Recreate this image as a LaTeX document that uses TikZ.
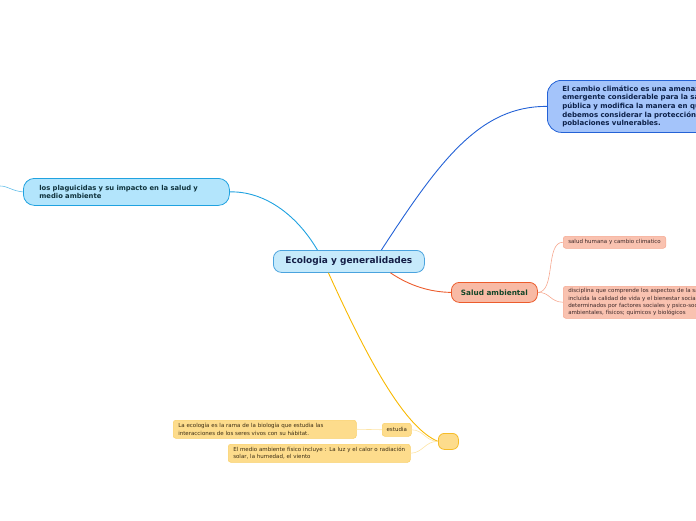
\documentclass[tikz,border=0pt]{standalone}
\usepackage{fontspec}
\setmainfont{DejaVu Sans}
\usetikzlibrary{positioning,calc}

\definecolor{ecofill}{RGB}{198,234,251}
\definecolor{ecoline}{RGB}{74,163,222}
\definecolor{ecotext}{RGB}{20,30,70}
\definecolor{ccfill}{RGB}{164,196,250}
\definecolor{ccline}{RGB}{36,98,214}
\definecolor{cctext}{RGB}{12,32,72}
\definecolor{plfill}{RGB}{179,229,252}
\definecolor{plline}{RGB}{32,162,224}
\definecolor{pltext}{RGB}{15,50,60}
\definecolor{safill}{RGB}{248,186,165}
\definecolor{saline}{RGB}{236,92,44}
\definecolor{satext}{RGB}{20,70,40}
\definecolor{subfill}{RGB}{249,194,176}
\definecolor{subline}{RGB}{246,168,144}
\definecolor{subtext}{RGB}{60,40,40}
\definecolor{yefill}{RGB}{253,220,140}
\definecolor{yeline}{RGB}{246,188,40}
\definecolor{yewire}{RGB}{248,184,0}
\definecolor{yethin}{RGB}{253,228,165}
\definecolor{yetext}{RGB}{60,45,20}

\begin{document}
\begin{tikzpicture}[x=1pt,y=-1pt]
\tikzset{
  box/.style={draw, anchor=north west, align=left, inner ysep=0pt},
  main/.style={box, line width=0.8pt},
  leaf/.style={box, line width=0.5pt, rounded corners=2.5pt, fill=subfill, draw=subline,
    text=subtext, font=\fontsize{5.5}{7.3}\selectfont, inner xsep=5pt},
  yleaf/.style={leaf, fill=yefill, draw=yeline!70, text=yetext},
  wire/.style={line width=0.9pt},
  thin wire/.style={line width=0.6pt}
}
\useasboundingbox (0,0) rectangle (696,520);
\clip (0,0) rectangle (696,520);

% central topic
\node[main, rounded corners=8pt, fill=ecofill, draw=ecoline, text=ecotext, align=center,
  minimum width=151pt, minimum height=22pt, font=\bfseries\fontsize{9}{11}\selectfont]
  (eco) at (273,250) {Ecologia y generalidades};

% main branches
\node[main, rounded corners=14pt, fill=ccfill, draw=ccline, text=cctext,
  minimum width=190pt, minimum height=52pt, inner xsep=15pt, text width=180pt,
  font=\bfseries\fontsize{7}{8.7}\selectfont]
  (cc) at (547,80) {El cambio climático es una amenaza\\emergente considerable para la salud\\pública y modifica la manera en que\\debemos considerar la protección de\\poblaciones vulnerables.};

\node[main, rounded corners=11pt, fill=plfill, draw=plline, text=pltext,
  minimum width=206pt, minimum height=27pt, inner xsep=16pt, text width=174pt,
  font=\bfseries\fontsize{6.8}{8.3}\selectfont]
  (plag) at (23,178) {los plaguicidas y su impacto en la salud y\\medio ambiente};

\node[main, rounded corners=8pt, fill=safill, draw=saline, text=satext, align=center,
  minimum width=86pt, minimum height=20pt, font=\bfseries\fontsize{7.3}{9}\selectfont]
  (salud) at (451,282) {Salud ambiental};

\node[main, rounded corners=6pt, fill=yefill, draw=yeline, minimum width=20pt, minimum height=16pt]
  (yel) at (438,433) {};

% leaves
\node[leaf, minimum height=12pt] (shc) at (563,236) {salud humana y cambio climatico};
\node[leaf, minimum height=32pt, text width=210pt] (disc) at (563,286)
  {disciplina que comprende los aspectos de la salud humana,\\incluida la calidad de vida y el bienestar social,\\determinados por factores sociales y psico-sociales,\\ambientales, físicos; químicos y biológicos};
\node[yleaf, minimum width=29pt, minimum height=13pt, align=center, inner xsep=2pt] (est) at (382,423) {estudia};
\node[yleaf, minimum width=183pt, minimum height=18pt, text width=173pt] (ecol) at (173,420)
  {La ecología es la rama de la biología que estudia las\\interacciones de los seres vivos con su hábitat.};
\node[yleaf, minimum width=182pt, minimum height=18pt, text width=172pt] (medio) at (228,444)
  {El medio ambiente físico incluye : La luz y el calor o radiación\\solar, la humedad, el viento};

% connectors
\coordinate (offl) at (0,186);
\draw[wire, ccline] ([xshift=32.5pt]eco.north) .. controls (440,160) and (480,106) .. (cc.west);
\draw[wire, plline] ([xshift=-31.5pt]eco.north) .. controls (295,212) and (262,191) .. (plag.east);
\draw[thin wire, plline!70] (plag.west) .. controls (12,191) and (8,186) .. (offl);
\draw[wire, saline] ([xshift=41.5pt]eco.south) .. controls (410,286) and (430,292) .. (salud.west);
\draw[wire, yewire] ([xshift=-20.5pt]eco.south) .. controls (368,360) and (405,428) .. (yel.west);
\draw[thin wire, subline] (salud.east) .. controls (556,292) and (545,242) .. (shc.west);
\draw[thin wire, subline] (salud.east) .. controls (550,292) and (550,302) .. (disc.west);
\draw[thin wire, yethin] (yel.west) .. controls (425,441) and (424,430) .. (est.east);
\draw[thin wire, yethin] (yel.west) .. controls (425,441) and (423,453) .. (medio.east);
\draw[thin wire, yethin] (est.west) -- (ecol.east);
\end{tikzpicture}
\end{document}
